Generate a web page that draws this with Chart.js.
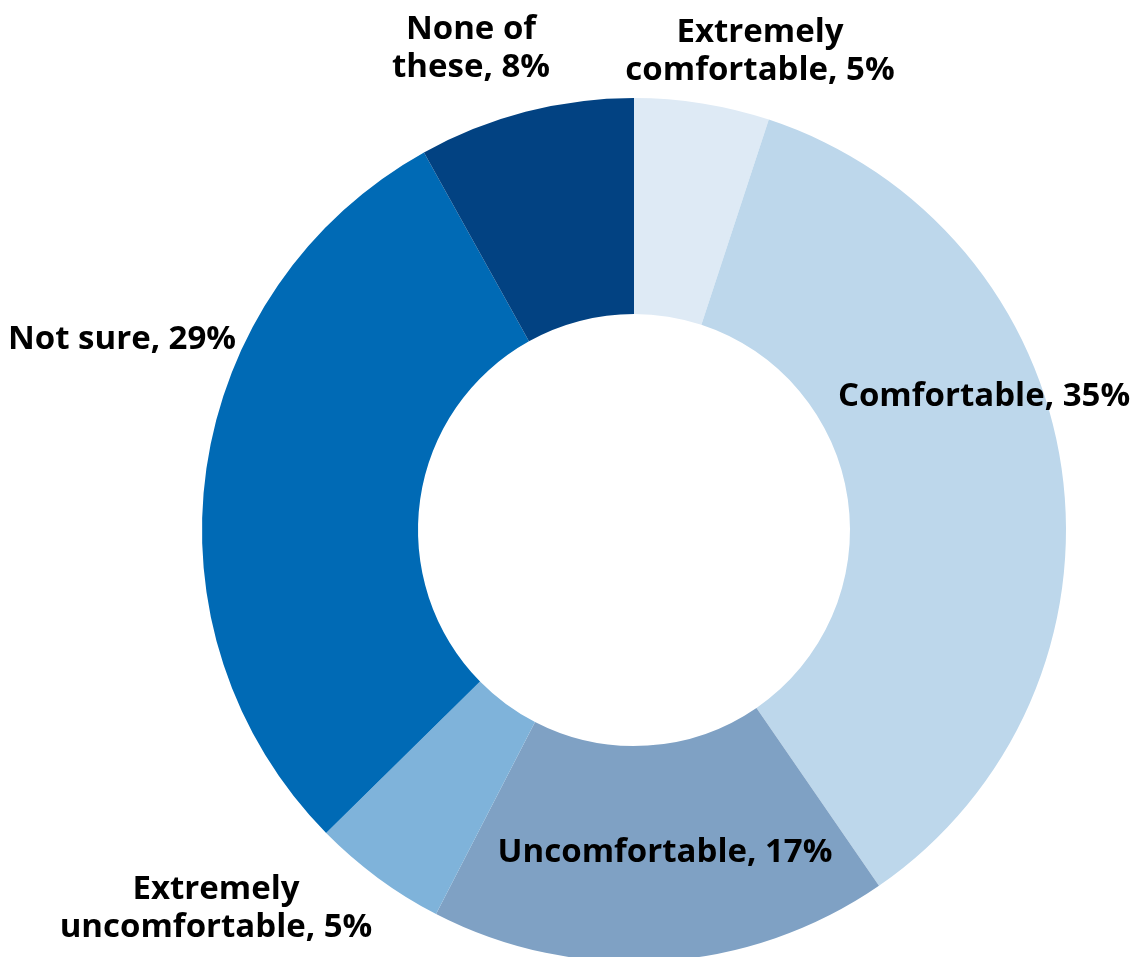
<!DOCTYPE html>
<html>
<head>
<meta charset="utf-8">
<script src="https://cdn.jsdelivr.net/npm/chart.js@4"></script>
<style>
  html, body { margin: 0; padding: 0; background: #fff; overflow: hidden; }
  #box { position: relative; width: 1136px; height: 962px; }
</style>
</head>
<body>
<div id="box"><canvas id="comfortChart"></canvas></div>
<script>
"use strict";

// survey answers, clockwise from the top
const categories = ['Extremely comfortable', 'Comfortable', 'Uncomfortable',
                    'Extremely uncomfortable', 'Not sure', 'None of these'];
const shares = [5, 35, 17, 5, 29, 8];
const colours = ['#deeaf5', '#bdd7eb', '#7fa1c4', '#7fb3da', '#006ab5', '#024282'];

// label text lines and where they sit on the page
const labelLines = [
  ['Extremely', 'comfortable, 5%'],
  ['Comfortable, 35%'],
  ['Uncomfortable, 17%'],
  ['Extremely', 'uncomfortable, 5%'],
  ['Not sure, 29%'],
  ['None of', 'these, 8%']
];
const labelSpots = [[760, 52], [984, 397], [665, 853], [216, 909], [122, 340], [471, 49]];

const labelPlugin = {
  id: 'sliceLabels',
  afterDatasetsDraw(chart) {
    const c = chart.ctx;
    c.save();
    c.fillStyle = '#000';
    c.font = 'bold 33px "Open Sans"';
    c.textAlign = 'center';
    c.textBaseline = 'middle';
    labelLines.forEach((lines, i) => {
      const [x, y] = labelSpots[i];
      const top = y - (lines.length - 1) * 19;
      lines.forEach((t, k) => c.fillText(t, x, top + k * 38));
    });
    c.restore();
  }
};

const ctx = document.getElementById('comfortChart').getContext('2d');
new Chart(ctx, {
  type: 'doughnut',
  data: {
    labels: categories,
    datasets: [{
      data: shares,
      backgroundColor: colours,
      borderWidth: 0,
      hoverOffset: 0
    }]
  },
  options: {
    responsive: true,
    maintainAspectRatio: false,
    animation: false,
    cutout: '50%',
    layout: { padding: { left: 202, right: 70, top: 98, bottom: 0 } },
    plugins: { legend: { display: false }, tooltip: { enabled: false } }
  },
  plugins: [labelPlugin]
});
</script>
</body>
</html>
